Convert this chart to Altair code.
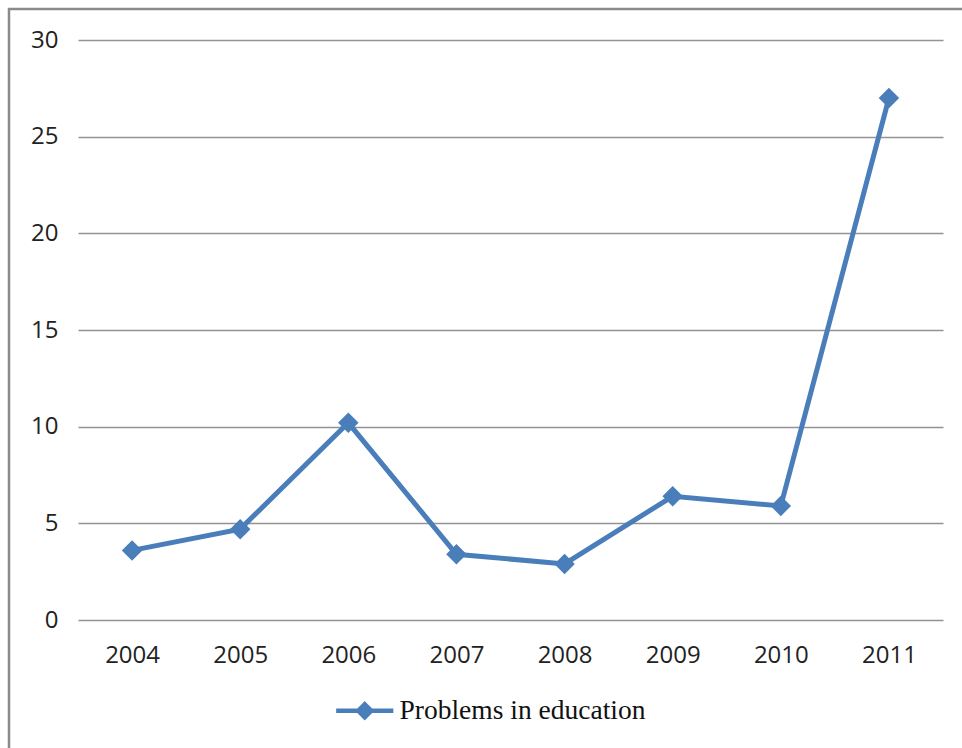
import altair as alt
import pandas as pd

years = ["2004", "2005", "2006", "2007", "2008", "2009", "2010", "2011"]
values = [3.6, 4.7, 10.2, 3.4, 2.9, 6.4, 5.9, 27.0]
series = ["Problems in education"] * len(years)
y_ticks = [0, 5, 10, 15, 20, 25, 30]

df = pd.DataFrame({"year": years, "value": values, "series": series})

BLUE = "#4a7ebb"
PW, PH = 865, 580
L, T = 78, 40

legend_path = "M-4.4,0L4.4,0M0,-1L1,0L0,1L-1,0Z"

base = alt.Chart(df).encode(
    x=alt.X("year:O", scale=alt.Scale(padding=0.5),
            axis=alt.Axis(title=None, labelAngle=0, ticks=False, domain=False, grid=False,
                          labelFont="Open Sans", labelFontSize=24, labelColor="#222222",
                          labelPadding=23)),
    y=alt.Y("value:Q", scale=alt.Scale(domain=[0, 30], nice=False),
            axis=alt.Axis(title=None, values=y_ticks, ticks=False, domain=False, grid=True,
                          gridColor="#939393", gridWidth=1.3,
                          labelFont="Open Sans", labelFontSize=24, labelColor="#222222",
                          labelPadding=20)),
    color=alt.Color("series:N", scale=alt.Scale(range=[BLUE]),
                    legend=alt.Legend(title=None, orient="none", legendX=273, legendY=657,
                                      symbolType=legend_path, symbolSize=169,
                                      symbolStrokeWidth=4.5, symbolFillColor=BLUE,
                                      symbolStrokeColor=BLUE, labelLimit=0,
                                      labelFont="Liberation Serif", labelFontSize=27.5,
                                      labelColor="#111111", labelOffset=21)),
)

line = base.mark_line(strokeWidth=5)
pts = base.mark_point(shape="diamond", size=420, filled=True, opacity=1)

frame_l = alt.Chart(df).mark_rule(stroke="#8a8a8a", strokeWidth=2.5).encode(
    x=alt.value(9 - L), y=alt.value(8 - T), y2=alt.value(748 - T + 20)
).transform_filter(alt.datum.year == "2004")
frame_t = alt.Chart(df).mark_rule(stroke="#8a8a8a", strokeWidth=2.5).encode(
    y=alt.value(9 - T), x=alt.value(8 - L), x2=alt.value(962 - L + 20)
).transform_filter(alt.datum.year == "2004")

chart = alt.layer(frame_l, frame_t, line, pts).properties(
    width=PW, height=PH,
    background="white",
    autosize=alt.AutoSizeParams(type="none"),
    padding={"left": L, "top": T, "right": 962 - L - PW, "bottom": 748 - T - PH},
).configure_view(stroke=None, strokeWidth=0)

chart.save("out.html", embed_options={"renderer": "svg", "actions": False})
